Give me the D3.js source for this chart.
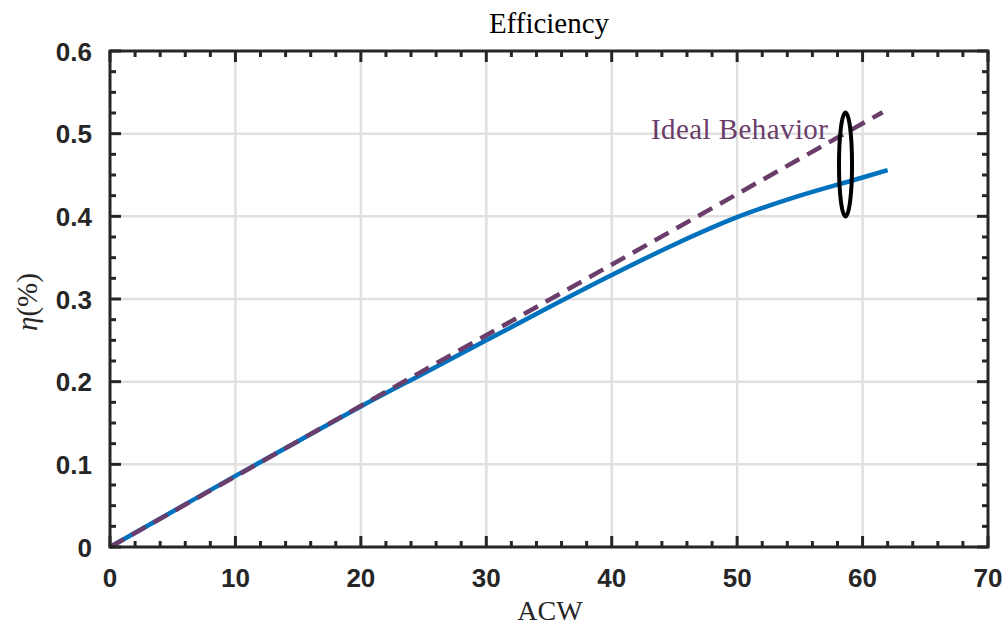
<!DOCTYPE html>
<html>
<head>
<meta charset="utf-8">
<script src="https://cdn.jsdelivr.net/npm/d3@7"></script>
<style>
  body { margin: 0; background: #fff; }
  svg { display: block; }
</style>
</head>
<body>
<div id="chart"></div>
<script>
(function () {
// --- data ---
const acw = [0, 5, 10, 15, 20, 25, 30, 35, 40, 45, 50, 55, 60, 62];
const eta = [0, 0.043, 0.086, 0.128, 0.170, 0.210, 0.250, 0.290, 0.329, 0.366, 0.399, 0.425, 0.447, 0.456];
const idealX = [0, 61.6];
const idealY = [0, 0.526];
const xTicks = [0, 10, 20, 30, 40, 50, 60, 70];
const yTicks = [0, 0.1, 0.2, 0.3, 0.4, 0.5, 0.6];
const yTickLabels = ["0", "0.1", "0.2", "0.3", "0.4", "0.5", "0.6"];
// ellipse marker: centre and half axes in data units
const markCenter = [58.64, 0.4627];
const markRadii = [0.52, 0.063];
const noteText = "Ideal Behavior";
const notePos = [57.24, 0.4935];

const W = 1003, H = 628;
const pL = 110, pR = 988, pT = 51, pB = 547;
const axisColor = "#262626";

const svg = d3.select("#chart").append("svg")
    .attr("width", W).attr("height", H);

const x = d3.scaleLinear().domain([0, 70]).range([pL, pR]);
const y = d3.scaleLinear().domain([0, 0.6]).range([pB, pT]);

// grid
const grid = svg.append("g").attr("stroke", "#e0e0e0").attr("stroke-width", 2.5);
grid.selectAll(null).data(xTicks.slice(1, -1)).join("line")
    .attr("x1", d => x(d)).attr("x2", d => x(d))
    .attr("y1", pT).attr("y2", pB);
grid.selectAll(null).data(yTicks.slice(1, -1)).join("line")
    .attr("x1", pL).attr("x2", pR)
    .attr("y1", d => y(d)).attr("y2", d => y(d));

// lines
const line = d3.line().x(d => x(d[0])).y(d => y(d[1]));
svg.append("path")
    .attr("d", line.curve(d3.curveMonotoneX)(acw.map((v, i) => [v, eta[i]])))
    .attr("fill", "none").attr("stroke", "#0072BD")
    .attr("stroke-width", 4.5).attr("stroke-linejoin", "round");
svg.append("path")
    .attr("d", line.curve(d3.curveLinear)(idealX.map((v, i) => [v, idealY[i]])))
    .attr("fill", "none").attr("stroke", "#6a3d6a")
    .attr("stroke-width", 4.5).attr("stroke-dasharray", "16,9");

// ellipse marker
svg.append("ellipse")
    .attr("cx", x(markCenter[0])).attr("cy", y(markCenter[1]))
    .attr("rx", x(markRadii[0]) - x(0)).attr("ry", y(0) - y(markRadii[1]))
    .attr("fill", "none").attr("stroke", "#000").attr("stroke-width", 4);

svg.append("text")
    .attr("x", x(notePos[0])).attr("y", y(notePos[1]))
    .attr("text-anchor", "end")
    .attr("font-family", "'Liberation Serif', serif").attr("font-size", 29)
    .attr("fill", "#6a3d6a")
    .attr("textLength", 177).attr("lengthAdjust", "spacing")
    .text(noteText);

// axes: box with inward ticks on all sides
const minorX = d3.range(0, 70.001, 2).filter(v => v % 10 !== 0);
const minorY = d3.range(0, 0.6001, 0.025).filter(v => Math.abs(v * 10 - Math.round(v * 10)) > 1e-6);
const ax = svg.append("g").attr("stroke", axisColor).attr("stroke-width", 3);
function ticksX(vals, len) {
  ax.selectAll(null).data(vals).join("line")
      .attr("x1", d => x(d)).attr("x2", d => x(d))
      .attr("y1", pB).attr("y2", pB - len);
  ax.selectAll(null).data(vals).join("line")
      .attr("x1", d => x(d)).attr("x2", d => x(d))
      .attr("y1", pT).attr("y2", pT + len);
}
function ticksY(vals, len) {
  ax.selectAll(null).data(vals).join("line")
      .attr("y1", d => y(d)).attr("y2", d => y(d))
      .attr("x1", pL).attr("x2", pL + len);
  ax.selectAll(null).data(vals).join("line")
      .attr("y1", d => y(d)).attr("y2", d => y(d))
      .attr("x1", pR).attr("x2", pR - len);
}
ticksX(xTicks, 11);
ticksX(minorX, 6);
ticksY(yTicks, 11);
ticksY(minorY, 6);
ax.append("rect")
    .attr("x", pL).attr("y", pT)
    .attr("width", pR - pL).attr("height", pB - pT)
    .attr("fill", "none").attr("stroke-linejoin", "miter");

// tick labels
const lab = svg.append("g")
    .attr("font-family", "'Liberation Sans', Arial, sans-serif")
    .attr("font-weight", "bold").attr("font-size", 26).attr("fill", axisColor);
lab.selectAll(null).data(xTicks).join("text")
    .attr("x", d => x(d)).attr("y", 587)
    .attr("text-anchor", "middle").text(d => d);
lab.selectAll(null).data(yTicks).join("text")
    .attr("x", 92).attr("y", d => y(d) + 9.5)
    .attr("text-anchor", "end").text((d, i) => yTickLabels[i]);

// titles
const serif = "'Liberation Serif', 'Times New Roman', serif";
svg.append("text")
    .attr("x", 549).attr("y", 33).attr("text-anchor", "middle")
    .attr("font-family", serif).attr("font-size", 29).attr("fill", "#000")
    .text("Efficiency");
svg.append("text")
    .attr("x", 550).attr("y", 620).attr("text-anchor", "middle")
    .attr("font-family", serif).attr("font-size", 28).attr("fill", axisColor)
    .text("ACW");
const yl = svg.append("text")
    .attr("transform", "translate(37,302) rotate(-90)")
    .attr("text-anchor", "middle")
    .attr("font-family", serif).attr("font-size", 29).attr("fill", axisColor);
yl.append("tspan").attr("font-style", "italic").text("η");
yl.append("tspan").text("(%)");
})();
</script>
</body>
</html>
